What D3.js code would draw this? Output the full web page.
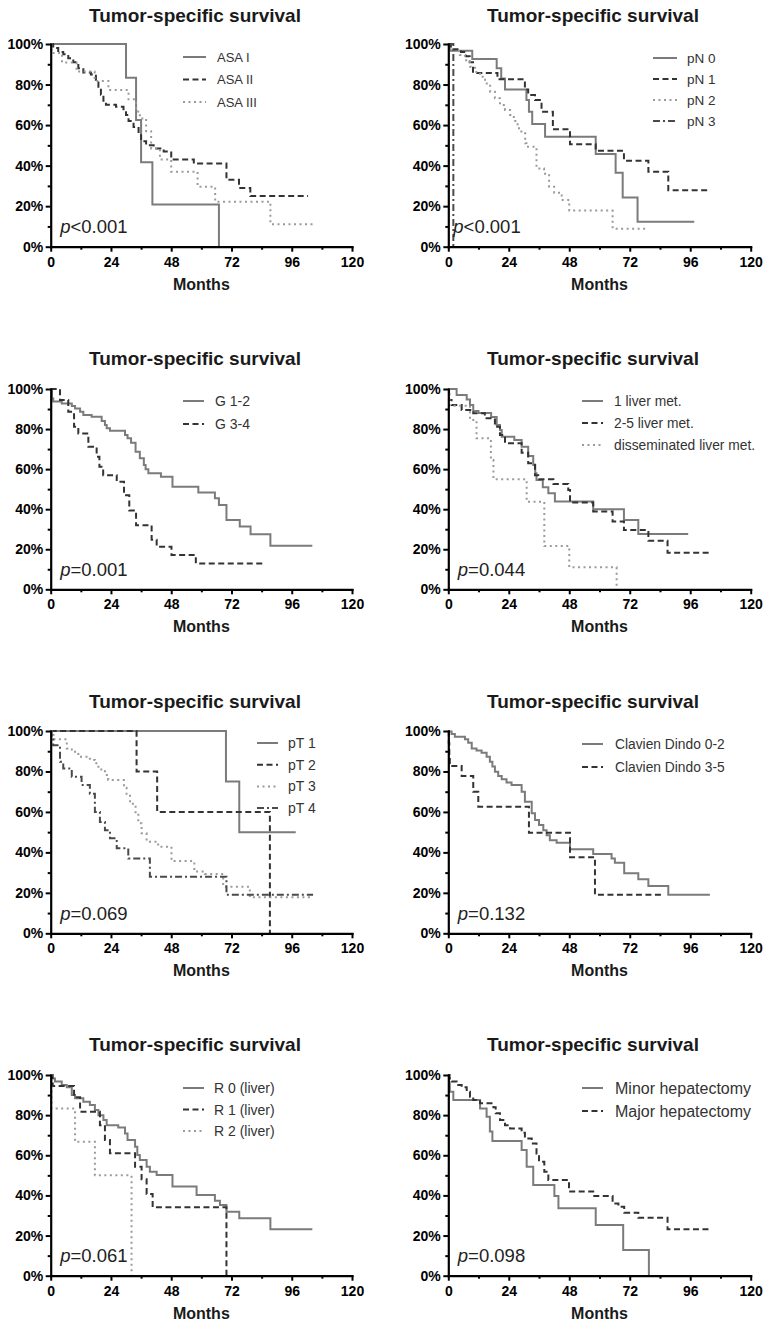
<!DOCTYPE html>
<html><head><meta charset="utf-8">
<script src="https://cdn.jsdelivr.net/npm/d3@7"></script>
<style>
html,body{margin:0;padding:0;background:#fff;}
svg{display:block;font-family:"Liberation Sans",Arial,sans-serif;}
</style></head>
<body>
<svg id="c" width="767" height="1324"></svg>
<script>
// ---------- DATA (months, survival %) ----------
const xTicks = [0, 24, 48, 72, 96, 120];
const xMinor = [12, 36, 60, 84, 108];
const yTicks = [0, 20, 40, 60, 80, 100];
const yMinor = [10, 30, 50, 70, 90];

const asa1 = [[0,100],[30,83.3],[34,62.5],[36,41.7],[40.5,20.8],[67,0]];
const asa2 = [[0,100],[1,98],[3,96],[5,95],[7,93],[9,91],[11,88],[13,86],[16,85],[18,81],[19,78],[20,75],[21,72],[22,70],[26,69],[29,67],[30,65],[31,62],[33,59],[35,55],[36,52],[38,50],[41,48.5],[45,47],[48,43],[57,41],[70,33],[75,29],[79.5,25],[102.5,25]];
const asa3 = [[0,100],[0.3,95.5],[4.5,90.9],[10.3,86.4],[17.5,81.8],[23,77.3],[31,72.7],[34,66.7],[35.5,63.3],[38,57],[40,48.5],[43.5,43],[48,37],[58.5,29.6],[65.5,22.2],[87.5,11.1],[104.5,11.1]];

const pN0 = [[0,100],[0.8,96.7],[9.5,92.6],[19.2,88],[21,83],[22.5,77.6],[31,72.4],[32,66.6],[33.3,60.5],[38.4,54.3],[58.5,45.7],[66.4,36.5],[69.2,24.3],[75.1,12.3],[97.6,12.3]];
const pN1 = [[0,100],[1,97.4],[5,96],[7,94],[8.5,91],[9.8,85.7],[19.5,82.6],[30.4,77.6],[31.7,74.8],[34.4,72.4],[37,66.6],[41.5,57.9],[48.3,50.6],[58.5,47.3],[69.7,42.4],[79.4,37],[87.3,27.9],[103.8,27.9]];
const pN2 = [[0,100],[0.7,96.5],[4.6,94.6],[6.6,92],[8.6,88.8],[10.6,86.2],[12.6,83.9],[14.6,80.5],[16.6,76.5],[18.5,73.2],[20.5,69.9],[22.5,67.5],[24.5,65],[26,62],[27.5,58.4],[29,56],[30.5,51],[31,49.3],[35,38.6],[38,36],[40,29.6],[42,26.6],[45,23],[48,17.8],[65.2,8.9],[78.5,8.9]];
const pN3 = [[0,100],[2,0]];

const g12 = [[0,100],[0.5,95.3],[1,93.7],[4.4,92.8],[8.4,91.5],[9.7,90.3],[11.7,88.7],[13,87],[16.3,86.2],[20.3,84],[21.6,82],[22.3,80.4],[23.6,79.2],[29.6,77],[30.6,75.4],[32,73.2],[33.8,68.7],[35.5,65.4],[37.1,62],[37.8,59.9],[38.9,57.9],[43.9,56.2],[48.5,51.2],[58.8,48.3],[65.4,45.4],[67,42.1],[70,34.6],[75.3,31.3],[79.6,27.5],[87.5,21.8],[104.2,21.8]];
const g34 = [[0,100],[3.7,94.5],[7,88.7],[9.3,81.2],[11,77.8],[15,71.2],[18.3,66.2],[19.4,61.2],[20.9,57],[26.3,53.7],[29.2,47],[31.3,39.4],[34,32],[40.2,24.8],[42.2,21.3],[48.1,17.1],[57.8,12.9],[84.6,12.9]];

const liv1 = [[0,100],[3.3,97],[7.3,94.8],[8.6,92],[9.9,89],[12,88],[17,86],[19.2,82],[20.5,79.5],[21.2,76.2],[26.2,74.5],[29.1,71.2],[31.7,66.6],[33.7,62],[34.5,58],[35,54.6],[37.5,51],[39.7,48],[42.3,43.8],[57.5,40],[69.7,34.6],[75.4,27.6],[95.2,27.6]];
const liv25 = [[0,100],[0.3,94.5],[1.3,92],[5.3,89.5],[9.9,87.9],[14.5,85.4],[18.5,81.2],[20.5,77],[22.5,72.9],[29.1,68.2],[31.7,62.9],[34.4,57],[35.7,54.9],[41.7,52.6],[47.6,49.6],[48.3,43.3],[57.5,38.8],[65.2,33.8],[69.7,29.6],[79.4,24.3],[87,18.3],[103.8,18.3]];
const livD = [[0,100],[0.5,91.7],[8.6,84.5],[11.2,75.4],[16.9,64.6],[17.9,55],[31.1,43.7],[38.1,21.6],[48,11],[66.8,0]];

const pT1 = [[0,100],[69.8,75],[75.1,50],[97.6,50]];
const pT2 = [[0,100],[34.2,80],[42.4,60],[87.3,0]];
const pT3 = [[0,100],[0.5,98],[1.1,95.9],[6.4,91.4],[8.4,89.8],[11,87.3],[15.6,85.7],[17.6,84],[19,81],[21.6,78.3],[22.9,75.8],[29.2,72],[30.2,69],[31.6,64],[33.8,59.3],[34.9,54.4],[36.2,49.4],[38.2,45.3],[42.8,42.8],[48.1,35.7],[57.2,30.5],[61.4,29.3],[68.7,23],[79.3,17.8],[104.5,17.8]];
const pT4 = [[0,100],[0.3,96.7],[1,93],[3.7,84.8],[5,81.5],[8.4,77.4],[12.3,73.3],[15.6,69],[17.6,60],[19.6,55],[21.6,51],[23.6,47],[26.3,42],[30.9,37],[39.5,28],[70,19],[104.5,19]];

const cd02 = [[0,100],[0.3,99.7],[1.3,98.5],[2.6,97.2],[6.6,95.9],[7.9,94.2],[9.3,91.4],[11.2,90.3],[13.2,89.3],[15.2,87.3],[16.5,84.8],[17.5,82.4],[18.5,79.9],[19.8,77.8],[21.2,76.1],[23.1,74.5],[25.1,73.3],[29.1,70],[30.4,65],[33.1,59.3],[34.4,56],[36,53.5],[37.7,51],[39,48.5],[40.3,46],[43,44.8],[48.3,41.5],[57.5,39.2],[64.8,37],[66.1,34.9],[69.8,29.7],[75.4,26.7],[79.4,23.4],[87.3,19],[103.8,19]];
const cd35 = [[0,100],[0.2,94],[0.4,88],[0.6,82.7],[5.3,77.8],[9.9,70],[11.9,62.6],[32,49.7],[48.3,37.6],[58.2,19],[84.7,19]];

const r0 = [[0,100],[0.3,98.3],[1.7,96.7],[4.4,95],[6.4,93.9],[8.4,90],[9.7,88.4],[13,86.7],[15.6,85],[17.6,82.6],[19,80],[21,77.6],[22.3,75],[26.9,73.9],[29.6,70.9],[30.6,67.6],[33.6,64.3],[34.5,60.1],[35.5,57.6],[38.2,54.3],[39.5,51.8],[42.2,50.2],[48.5,44.4],[58.1,40.2],[65.4,37.4],[67.4,35.2],[70,31.9],[75.1,28.6],[87.5,23.1],[104.2,23.1]];
const r1 = [[0,100],[0.8,94.5],[9.3,88.9],[11.7,81.7],[19.6,75],[21.6,67.6],[23.6,61],[33.6,54.3],[36.2,48],[38.2,40.7],[40.6,34.1],[70,0]];
const r2 = [[0,100],[0.3,83.3],[9.7,66.7],[17.6,50],[32.2,0]];

const minorHep = [[0,100],[0.3,95.8],[0.6,91.7],[2,87.5],[12.6,83.3],[15.2,79.2],[16.5,71.8],[17.5,67.1],[29.1,62.6],[31.1,54.3],[33.7,45.2],[42.1,39.7],[43.7,33.6],[58.5,25.2],[69.4,12.8],[79.6,0]];
const majorHep = [[0,100],[0.5,98.3],[1.3,96.7],[3.3,95],[5.3,93.9],[7.3,91.7],[8.6,89.2],[9.9,87.5],[12.6,85.9],[17.9,83.9],[18.8,80.9],[20.5,77.6],[22.5,75],[24.5,73.4],[29.1,71.2],[30.4,68.4],[33.1,65.9],[35,60.9],[36,56.8],[38.1,51.8],[39.7,47.7],[47.9,41.9],[57.5,39.7],[65.2,36],[67.5,34.4],[69.8,31.4],[75.4,28.9],[87,23.1],[103.8,23.1]];

const pValues = ["<0.001", "<0.001", "=0.001", "=0.044", "=0.069", "=0.132", "=0.061", "=0.098"];

// ---------- STYLES & LAYOUT ----------
const STY = {
  solid:   {dash: null,        color: "#7b7b7b"},
  dashed:  {dash: "6,3.5",     color: "#333333"},
  dotted:  {dash: "2,3.5",     color: "#9a9a9a"},
  dashdot: {dash: "7,3,2,3",   color: "#4a4a4a"}
};

const COLS = [{x0: 50.7, x1: 352, tc: 195}, {x0: 448.3, x1: 750.7, tc: 593}];
const ROWS = [{t: 44, b: 246.7, tb: 21.7}, {t: 389, b: 589.3, tb: 365}, {t: 731, b: 933.3, tb: 708}, {t: 1075, b: 1275.7, tb: 1051}];

const panels = [
  {r:0,c:0, series:[["ASA I",asa1,"solid"],["ASA II",asa2,"dashed"],["ASA III",asa3,"dotted"]], lg:{x:183,x2:206,tx:217,y:57,dy:22.5,fs:13}, px:9.5, months:true},
  {r:0,c:1, series:[["pN 0",pN0,"solid"],["pN 1",pN1,"dashed"],["pN 2",pN2,"dotted"],["pN 3",pN3,"dashdot"]], lg:{x:653,x2:677,tx:687,y:58,dy:21,fs:13.5}, px:5, months:true},
  {r:1,c:0, series:[["G 1-2",g12,"solid"],["G 3-4",g34,"dashed"]], lg:{x:183,x2:204,tx:215,y:401,dy:23,fs:14}, px:9.5, months:true},
  {r:1,c:1, series:[["1 liver met.",liv1,"solid"],["2-5 liver met.",liv25,"dashed"],["disseminated liver met.",livD,"dotted"]], lg:{x:582,x2:603,tx:614,y:401,dy:22,fs:13.8}, px:9.5, months:true},
  {r:2,c:0, series:[["pT 1",pT1,"solid"],["pT 2",pT2,"dashed"],["pT 3",pT3,"dotted"],["pT 4",pT4,"dashdot"]], lg:{x:257,x2:278,tx:288,y:743,dy:21.7,fs:14}, px:9.5, months:true},
  {r:2,c:1, series:[["Clavien Dindo 0-2",cd02,"solid"],["Clavien Dindo 3-5",cd35,"dashed"]], lg:{x:582,x2:603,tx:615,y:744,dy:23,fs:13.8}, px:9.5, months:true},
  {r:3,c:0, series:[["R 0 (liver)",r0,"solid"],["R 1 (liver)",r1,"dashed"],["R 2 (liver)",r2,"dotted"]], lg:{x:183,x2:204,tx:214,y:1088,dy:21.5,fs:14}, px:9.5, months:true},
  {r:3,c:1, series:[["Minor hepatectomy",minorHep,"solid"],["Major hepatectomy",majorHep,"dashed"]], lg:{x:582,x2:603,tx:615,y:1088,dy:23,fs:16}, px:9.5, months:true}
];

const svg = d3.select("#c");

panels.forEach((p, i) => {
  const col = COLS[p.c], row = ROWS[p.r];
  const x = d3.scaleLinear().domain([0, 120]).range([col.x0, col.x1]);
  const y = d3.scaleLinear().domain([0, 100]).range([row.b, row.t]);
  const g = svg.append("g");

  // title
  g.append("text").attr("x", col.tc).attr("y", row.tb)
    .attr("text-anchor", "middle").attr("font-weight", "bold")
    .attr("font-size", 19).attr("fill", "#1a1a1a").text("Tumor-specific survival");

  // curves
  const line = d3.line().x(d => x(d[0])).y(d => y(d[1])).curve(d3.curveStepAfter);
  p.series.forEach(s => {
    const st = STY[s[2]];
    g.append("path").datum(s[1]).attr("d", line)
      .attr("fill", "none").attr("stroke", st.color).attr("stroke-width", 2)
      .attr("stroke-dasharray", st.dash);
  });

  // axes
  const yAx = g.append("g").attr("transform", `translate(${col.x0},0)`)
    .call(d3.axisLeft(y).tickValues(yTicks).tickFormat(d => d + "%").tickSize(5).tickPadding(2.5).tickSizeOuter(0));
  g.append("g").attr("transform", `translate(${col.x0},0)`)
    .call(d3.axisLeft(y).tickValues(yMinor).tickFormat("").tickSize(3).tickSizeOuter(0))
    .call(a => a.select(".domain").remove());
  const xAx = g.append("g").attr("transform", `translate(0,${row.b})`)
    .call(d3.axisBottom(x).tickValues(xTicks).tickSize(5).tickPadding(5).tickSizeOuter(0));
  g.append("g").attr("transform", `translate(0,${row.b})`)
    .call(d3.axisBottom(x).tickValues(xMinor).tickFormat("").tickSize(3).tickSizeOuter(0))
    .call(a => a.select(".domain").remove());

  g.selectAll(".domain").attr("stroke", "#000").attr("stroke-width", 2.2).attr("stroke-linecap", "square");
  g.selectAll(".tick line").attr("stroke", "#000").attr("stroke-width", 2);
  g.selectAll(".tick text").attr("font-family", "Liberation Sans, Arial, sans-serif")
    .attr("font-size", 14).attr("font-weight", "bold").attr("fill", "#000");

  // Months label
  g.append("text").attr("x", (col.x0 + col.x1) / 2).attr("y", row.b + 43)
    .attr("text-anchor", "middle").attr("font-weight", "bold").attr("font-size", 16)
    .attr("fill", "#1a1a1a").text("Months");

  // p-value
  const pt = g.append("text").attr("x", col.x0 + p.px).attr("y", row.b - 13.5)
    .attr("font-size", 18.5).attr("fill", "#222");
  pt.append("tspan").attr("font-style", "italic").text("p");
  pt.append("tspan").text(pValues[i]);

  // legend
  p.series.forEach((s, k) => {
    const st = STY[s[2]], ly = p.lg.y + k * p.lg.dy;
    g.append("line").attr("x1", p.lg.x).attr("x2", p.lg.x2).attr("y1", ly).attr("y2", ly)
      .attr("stroke", st.color).attr("stroke-width", 2).attr("stroke-dasharray", st.dash);
    g.append("text").attr("x", p.lg.tx).attr("y", ly).attr("dy", "0.36em")
      .attr("font-size", p.lg.fs).attr("fill", "#333").text(s[0]);
  });
});
</script>
</body></html>
